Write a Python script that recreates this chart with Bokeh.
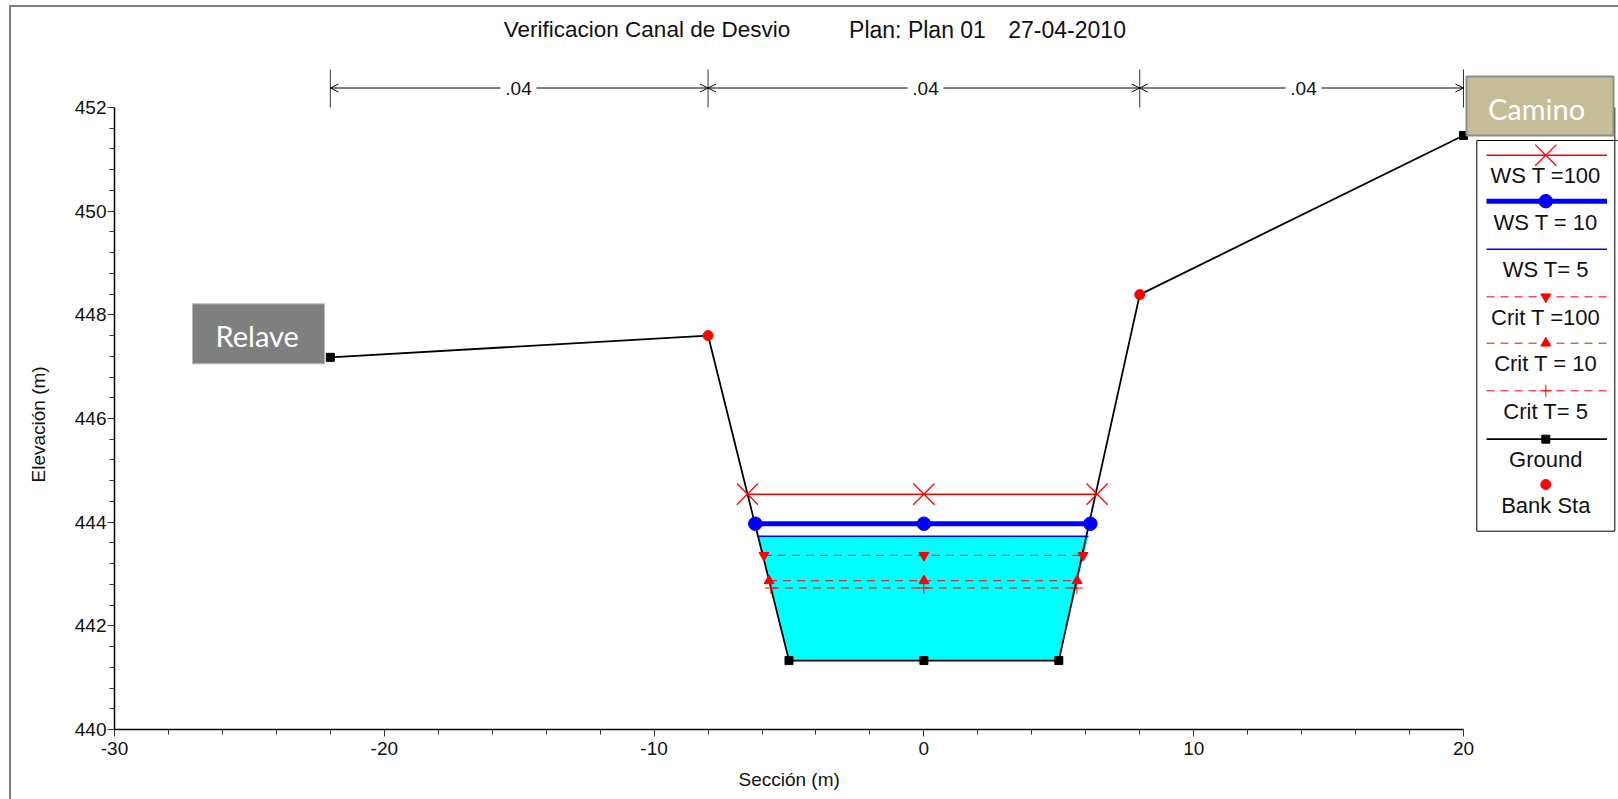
from bokeh.plotting import figure
from bokeh.embed import file_html
from bokeh.resources import INLINE
from bokeh.models import Arrow, OpenHead, BoxAnnotation, Label, Range1d, FixedTicker, Title

# ---------- data ----------
ground_x = [-22, -8, -5, 0, 5, 8, 20]
ground_y = [447.18, 447.6, 441.33, 441.33, 441.33, 448.39, 451.46]
ground_mark_x = [-22, -5, 0, 5, 20]
ground_mark_y = [447.18, 441.33, 441.33, 441.33, 451.46]
bank_x = [-8, 8]
bank_y = [447.6, 448.39]
ws100_x = [-6.54, 0, 6.42]
ws100_y = [444.54, 444.54, 444.54]
ws10_x = [-6.25, 0, 6.17]
ws10_y = [443.97, 443.97, 443.97]
ws5_x = [-6.14, 0, 6.1]
ws5_y = [443.73, 443.73, 443.73]
crit100_x = [-5.93, 0, 5.9]
crit100_y = [443.36, 443.36, 443.36]
crit10_x = [-5.74, 0, 5.68]
crit10_y = [442.87, 442.87, 442.87]
crit5_x = [-5.67, 0, 5.67]
crit5_y = [442.73, 442.73, 442.73]
water_x = [-6.14, 6.1, 5, -5]
water_y = [443.73, 443.73, 441.33, 441.33]
manning_sta = [-22, -8, 8, 20]
manning_lbl = [".04", ".04", ".04"]
x_ticks = [-30, -20, -10, 0, 10, 20]
y_ticks = [440, 442, 444, 446, 448, 450, 452]
title_parts = ["Verificacion Canal de Desvio", "Plan: Plan 01", "27-04-2010"]
legend_labels = ["WS T =100", "WS T = 10", "WS T= 5", "Crit T =100", "Crit T = 10", "Crit T= 5", "Ground", "Bank Sta"]
x_title = "Sección (m)"
y_title = "Elevación  (m)"

# ---------- layout (page pixels; the canvas starts at the page origin) ----------
W, H = 1618, 799
LEFT, RIGHT_X20, TOP, BOT = 114, 1463, 107.0, 729
sx = (RIGHT_X20 - LEFT) / 50.0
sy = (BOT - TOP) / 12.0
FONT = "Liberation Sans"
SHAPE_FONT = "Lato"
def dx(px): return -30 + (px - LEFT) / sx
def dy(py): return 452 - (py - TOP) / sy

p = figure(width=W, height=H, output_backend="svg", toolbar_location=None,
           x_range=Range1d(-30, dx(W)), y_range=Range1d(440, dy(0)),
           min_border_left=LEFT, min_border_right=0, min_border_top=0,
           min_border_bottom=H - BOT, outline_line_color=None,
           border_fill_color=None, background_fill_color=None)
# outer frame of the sheet (left and top only, as in the reference)
p.styles = {
    "background-color": "white",
    "background-image": "linear-gradient(#7f7f7f,#7f7f7f),linear-gradient(#7f7f7f,#7f7f7f)",
    "background-size": "2px 100%,100% 2px",
    "background-position": "9px 5px,9px 5px",
    "background-repeat": "no-repeat",
}
p.grid.visible = False
for ax, bnd in ((p.xaxis[0], (-30, 20)), (p.yaxis[0], (440, 452))):
    ax.bounds = bnd
    ax.axis_line_color = "black"
    ax.axis_line_width = 1.5
    ax.major_tick_line_color = "#333333"
    ax.minor_tick_line_color = "#333333"
    ax.major_tick_in = 0
    ax.major_tick_out = 7
    ax.minor_tick_in = 0
    ax.minor_tick_out = 5
    ax.major_label_text_font = FONT
    ax.major_label_text_font_size = "19px"
    ax.major_label_text_color = "#111111"
p.xaxis[0].ticker = FixedTicker(ticks=x_ticks, minor_ticks=[v for v in range(-30, 21, 2) if v % 10])
p.yaxis[0].ticker = FixedTicker(ticks=y_ticks, minor_ticks=[440 + 0.4 * i for i in range(31) if i % 5])
p.xaxis[0].major_label_overrides = {t: str(t) for t in x_ticks}
p.xaxis[0].major_label_standoff = 5
p.yaxis[0].major_label_standoff = 1

# axis titles as panel titles, because they centre on the axes, not on the wider frame
p.add_layout(Title(text=x_title, align="left", offset=624, standoff=19, text_font=FONT, text_font_size="19px",
                   text_font_style="normal", text_color="#111111"), "below")
p.add_layout(Title(text=y_title, align="left", offset=247, standoff=46, text_font=FONT, text_font_size="19px",
                   text_font_style="normal", text_color="#111111"), "left")

def T(xp, yp, s, size="19px", color="#111111", font=FONT, angle=0.0):
    p.add_layout(Label(x=dx(xp), y=dy(yp), text=s, text_font=font, text_font_size=size, text_color=color,
                       text_align="center", text_baseline="middle", angle=angle))

# water and ground
p.patch(water_x, water_y, fill_color="#00ffff", line_color=None)
p.line(ground_x, ground_y, line_color="black", line_width=1.8)
p.scatter(ground_mark_x, ground_mark_y, marker="square", size=8, color="black")
p.scatter(bank_x, bank_y, marker="circle", size=10, color="red")
p.line(ws100_x, ws100_y, line_color="red", line_width=1.5)
p.scatter(ws100_x, ws100_y, marker="x", size=30, line_color="red", line_width=1.3)
p.line(ws10_x, ws10_y, line_color="#0000ff", line_width=5)
p.scatter(ws10_x, ws10_y, marker="circle", size=13.5, color="#0000ff")
p.line(ws5_x, ws5_y, line_color="#0000ff", line_width=1.5)
p.line(crit100_x, crit100_y, line_color="red", line_width=1, line_dash="8 6")
p.scatter(crit100_x, crit100_y, marker="inverted_triangle", size=10, color="red")
p.line(crit10_x, crit10_y, line_color="red", line_width=1, line_dash="8 6")
p.scatter(crit10_x, crit10_y, marker="triangle", size=10, color="red")
p.line(crit5_x, crit5_y, line_color="red", line_width=1, line_dash="8 6")
p.scatter(crit5_x, crit5_y, marker="cross", size=12, line_color="red", line_width=1, fill_color=None)

# Manning's n brackets
ybar = dy(87.5)
p.segment(manning_sta, [dy(69)] * 4, manning_sta, [dy(107)] * 4, line_color="#333333", line_width=1)
for a, b, s, mpx in zip(manning_sta[:-1], manning_sta[1:], manning_lbl, (518, 925, 1303)):
    mid = dx(mpx)
    gap = 18 / sx
    for st, en in ((mid - gap, a), (mid + gap, b)):
        p.add_layout(Arrow(x_start=st, y_start=ybar, x_end=en, y_end=ybar, line_color="black", line_width=1,
                           end=OpenHead(size=8, line_color="black", line_width=1)))
    p.add_layout(Label(x=mid, y=ybar, text=s, text_font=FONT, text_font_size="19px", text_color="#111111",
                       text_align="center", text_baseline="middle"))

# legend (page pixel layout)
LX0, LX1, LC = 1486, 1606.5, 1545.3
LDL = [154.7, 200.7, 248.7, 296.3, 342.7, 390.3, 438.7, 484.0]
LTX = [175, 221.7, 269.3, 316.7, 363.3, 410.7, 459, 505]
box = dict(line_color="black", line_width=1)
p.line([dx(1476.3), dx(1476.3), dx(1614.3), dx(1614.3)], [dy(140), dy(530.7), dy(530.7), dy(107)], **box)
p.line([dx(1476.3), dx(1617)], [dy(140), dy(140)], **box)
def leg_line(i, **kw):
    p.line([dx(LX0), dx(LX1)], [dy(LDL[i])] * 2, **kw)
def leg_mark(i, **kw):
    p.scatter([dx(LC)], [dy(LDL[i])], **kw)
leg_line(0, line_color="red", line_width=1.5); leg_mark(0, marker="x", size=30, line_color="red", line_width=1.3)
leg_line(1, line_color="#0000ff", line_width=5); leg_mark(1, marker="circle", size=13.5, color="#0000ff")
leg_line(2, line_color="#0000ff", line_width=1.5)
leg_line(3, line_color="red", line_width=1, line_dash="8 6"); leg_mark(3, marker="inverted_triangle", size=10, color="red")
leg_line(4, line_color="red", line_width=1, line_dash="8 6"); leg_mark(4, marker="triangle", size=10, color="red")
leg_line(5, line_color="red", line_width=1, line_dash="8 6"); leg_mark(5, marker="cross", size=12, line_color="red", line_width=1, fill_color=None)
leg_line(6, line_color="black", line_width=1.8); leg_mark(6, marker="square", size=8, color="black")
leg_mark(7, marker="circle", size=10, color="red")
for yy, s in zip(LTX, legend_labels):
    T(LC, yy, s, size="22px")

# shapes
p.quad(left=dx(192), right=dx(324), top=dy(303.3), bottom=dy(363.3), fill_color="#7f7f7f", line_color="#b8b8b8", line_width=1)
p.add_layout(BoxAnnotation(left=dx(1466), right=dx(1613), top=dy(76), bottom=dy(135), fill_color="#c4bd97", fill_alpha=1,
                           line_color="#8c8c8c", line_alpha=1, line_width=2))
T(256.7, 335, "Relave", size="29px", color="white", font=SHAPE_FONT)
T(1536, 108, "Camino", size="29px", color="white", font=SHAPE_FONT)

# texts
T(646.5, 29, title_parts[0], size="22.5px")
T(917, 29, title_parts[1], size="23px")
T(1066.6, 29, title_parts[2], size="23px")

open("out.html", "w").write(file_html(p, INLINE))
